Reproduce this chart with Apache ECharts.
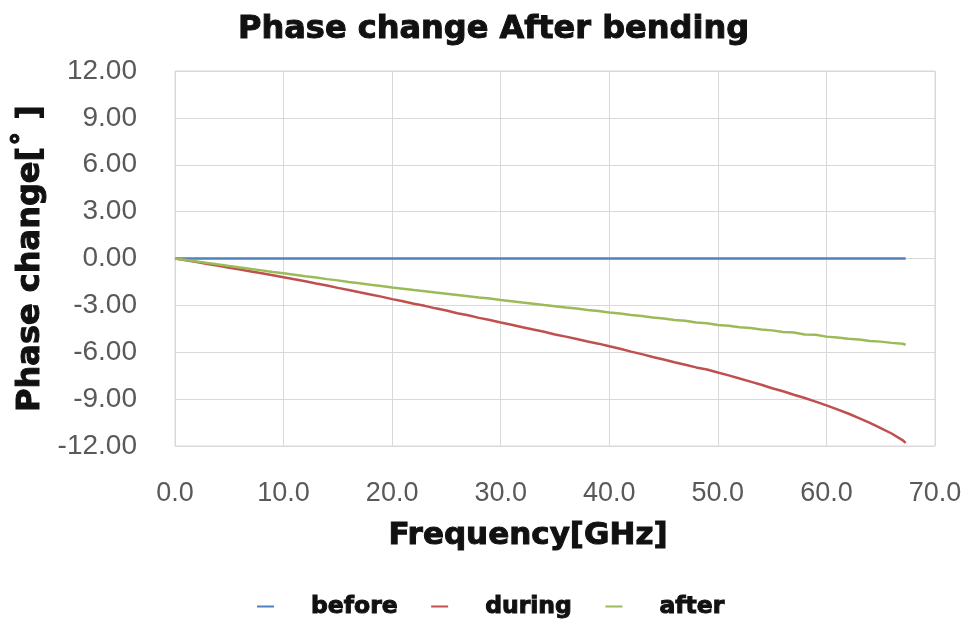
<!DOCTYPE html>
<html>
<head>
<meta charset="utf-8">
<script src="https://cdn.jsdelivr.net/npm/echarts@6/dist/echarts.min.js"></script>
<style>
  html, body { margin: 0; padding: 0; background: #ffffff; }
  #chart { width: 967px; height: 619px; }
</style>
</head>
<body>
<div id="chart"></div>
<script>
// Frequency sweep points [GHz]
const freq = [0,1,2,3,4,5,6,7,8,9,10,11,12,13,14,15,16,17,18,19,20,21,22,23,24,25,26,27,28,29,
  30,31,32,33,34,35,36,37,38,39,40,41,42,43,44,45,46,47,48,49,50,51,52,53,54,55,56,57,58,59,
  60,61,62,63,64,65,66,67,67.3];

// Phase change [deg] before bending (reference)
const before = [0,0,0,0,0,0,0,0,0,0,0,0,0,0,0,0,0,0,0,0,0,0,0,0,0,0,0,0,0,0,
  0,0,0,0,0,0,0,0,0,0,0,0,0,0,0,0,0,0,0,0,0,0,0,0,0,0,0,0,0,0,
  0,0,0,0,0,0,0,0,0];

// Phase change [deg] during bending
const during = [0,-0.11,-0.23,-0.35,-0.47,-0.59,-0.71,-0.83,-0.95,-1.07,
  -1.20,-1.33,-1.46,-1.60,-1.73,-1.88,-2.01,-2.16,-2.30,-2.44,
  -2.60,-2.74,-2.90,-3.03,-3.19,-3.33,-3.50,-3.63,-3.80,-3.94,
  -4.10,-4.24,-4.40,-4.55,-4.69,-4.86,-5.00,-5.15,-5.31,-5.45,
  -5.62,-5.78,-5.96,-6.12,-6.30,-6.46,-6.64,-6.80,-6.97,-7.10,
  -7.30,-7.48,-7.68,-7.88,-8.08,-8.30,-8.50,-8.72,-8.93,-9.16,
  -9.40,-9.66,-9.92,-10.22,-10.52,-10.86,-11.20,-11.62,-11.80];

// Phase change [deg] after bending
const after = [0,-0.09,-0.19,-0.29,-0.38,-0.48,-0.57,-0.67,-0.76,-0.86,
  -0.95,-1.04,-1.14,-1.22,-1.32,-1.40,-1.50,-1.58,-1.68,-1.76,
  -1.85,-1.93,-2.02,-2.09,-2.18,-2.26,-2.34,-2.42,-2.50,-2.56,
  -2.66,-2.73,-2.82,-2.89,-2.98,-3.05,-3.14,-3.20,-3.30,-3.36,
  -3.46,-3.52,-3.62,-3.68,-3.77,-3.84,-3.93,-3.99,-4.10,-4.14,
  -4.25,-4.30,-4.40,-4.45,-4.55,-4.60,-4.70,-4.74,-4.86,-4.88,
  -5.00,-5.05,-5.14,-5.18,-5.28,-5.32,-5.40,-5.46,-5.52];

const seriesNames = ['before', 'during', 'after'];
const seriesColors = ['#4F81BD', '#C0504D', '#9BBB59'];
const seriesValues = [before, during, after];

const heavyFont = 'DejaVu Sans';
const tickFont = 'Liberation Sans';

// heavy black text: bold face plus a thin same-colour outline
const heavyText = (size) => ({
  fontFamily: heavyFont, fontWeight: 'bold', fontSize: size, color: '#111111',
  textBorderColor: '#111111', textBorderWidth: 1
});

const chart = echarts.init(document.getElementById('chart'), null, { renderer: 'canvas' });

chart.setOption({
  backgroundColor: '#ffffff',
  animation: false,
  title: {
    text: 'Phase change After bending',
    left: 233,
    top: 9,
    textStyle: heavyText(32)
  },
  legend: {
    top: 589,
    left: 252,
    icon: 'rect',
    itemWidth: 17,
    itemHeight: 2,
    itemGap: 33,
    data: seriesNames,
    textStyle: Object.assign(heavyText(23.5), { padding: [0, 0, 0, 32] })
  },
  grid: { left: 175, right: 32, top: 71, bottom: 173, show: true, borderColor: '#D9D9D9', borderWidth: 1 },
  xAxis: {
    type: 'value',
    min: 0, max: 70, interval: 10,
    name: 'Frequency[GHz]',
    nameLocation: 'middle',
    nameGap: 74,
    nameTextStyle: Object.assign(heavyText(31), { padding: [0, 54, 0, 0] }),
    axisLine: { show: true, lineStyle: { color: '#D9D9D9' } },
    axisTick: { show: false },
    axisLabel: {
      margin: 34, fontFamily: tickFont, fontSize: 27, color: '#595959',
      formatter: v => v.toFixed(1)
    },
    splitLine: { show: true, lineStyle: { color: '#D9D9D9', width: 1 } }
  },
  yAxis: {
    type: 'value',
    min: -12, max: 12, interval: 3,
    name: 'Phase change[\u02DA ]',
    nameLocation: 'middle',
    nameGap: 127,
    nameTextStyle: heavyText(32),
    axisLine: { show: false },
    axisTick: { show: false },
    axisLabel: {
      margin: 38, fontFamily: tickFont, fontSize: 28, color: '#595959',
      formatter: v => v.toFixed(2)
    },
    splitLine: { show: true, lineStyle: { color: '#D9D9D9', width: 1 } }
  },
  series: seriesNames.map((name, i) => ({
    name: name,
    type: 'line',
    data: freq.map((f, k) => [f, seriesValues[i][k]]),
    showSymbol: false,
    symbol: 'none',
    lineStyle: { color: seriesColors[i], width: 2.5 },
    itemStyle: { color: seriesColors[i] }
  }))
});
</script>
</body>
</html>
